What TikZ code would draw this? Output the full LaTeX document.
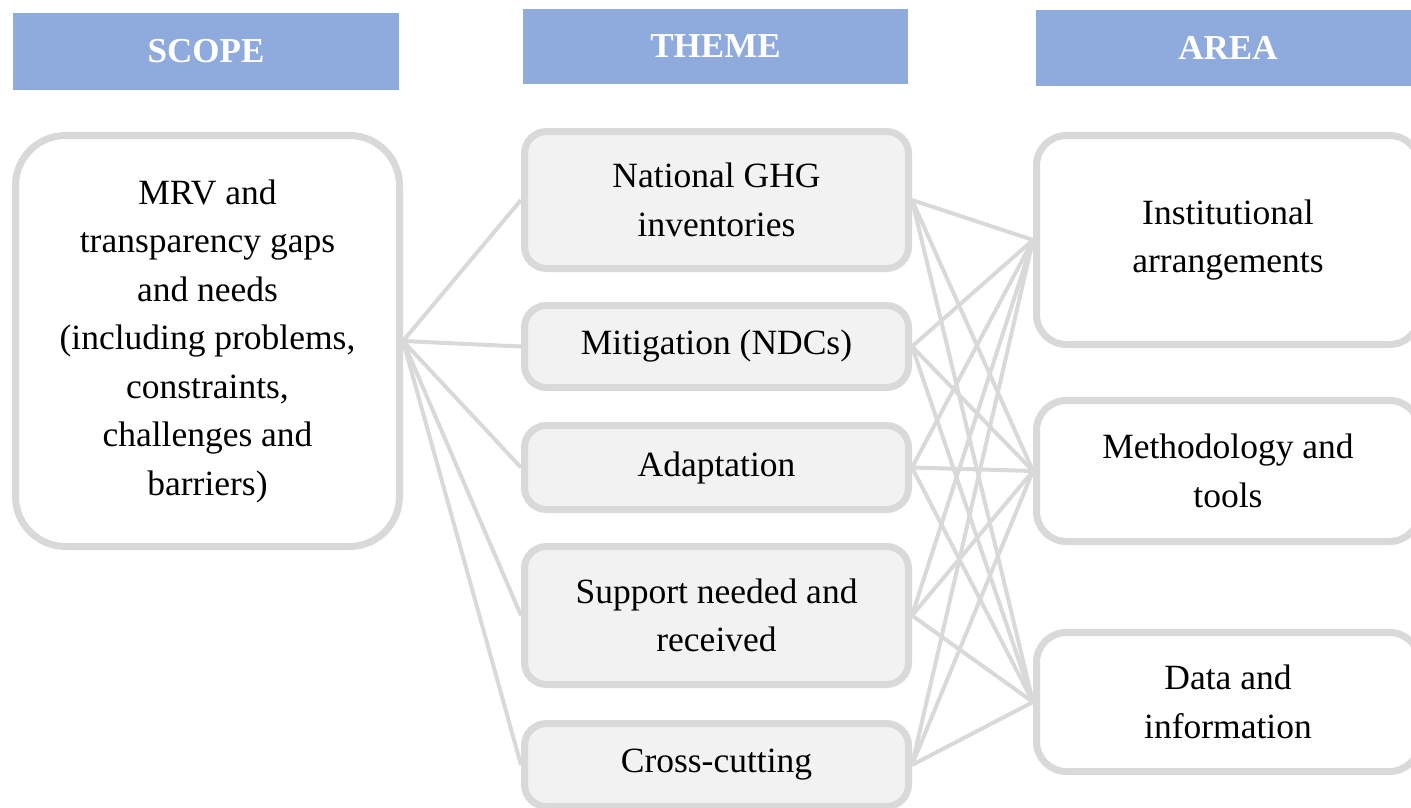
\documentclass[tikz,border=0pt]{standalone}
\usepackage{fontspec}
\setmainfont{Liberation Serif}
\definecolor{hdr}{RGB}{143,170,220}
\definecolor{brd}{RGB}{217,217,217}
\definecolor{tfill}{RGB}{242,242,242}
\pgfdeclarelayer{bg}
\pgfsetlayers{bg,main}
\begin{document}
\begin{tikzpicture}[x=1pt,y=-1pt,
  hdrbox/.style={fill=hdr, text=white, font=\fontsize{35}{42}\selectfont\bfseries, inner sep=0pt, outer sep=0pt},
  txt/.style={font=\fontsize{35.5}{48.5}\selectfont, align=center, text=black, inner sep=0pt},
  scopebox/.style={txt, draw=brd, line width=7pt, fill=white, rounded corners=50pt},
  themebox/.style={txt, draw=brd, line width=7pt, fill=tfill, rounded corners=22pt, minimum width=384pt},
  areabox/.style={txt, draw=brd, line width=7pt, fill=white, rounded corners=30pt, minimum width=383pt},
  link/.style={draw=brd, line width=4pt}]
\useasboundingbox (0,0) rectangle (1411,808);
\clip (0,0) rectangle (1411,808);

% headers
\node[hdrbox, minimum width=386pt, minimum height=77pt] (hs) at (206,51.5) {SCOPE};
\node[hdrbox, minimum width=385pt, minimum height=75pt] (ht) at (715.5,46.5) {THEME};
\node[hdrbox, minimum width=384pt, minimum height=76pt] (ha) at (1228,48) {AREA};

% scope
\node[scopebox, minimum width=384pt, minimum height=411pt] (s) at (207.5,341)
  {MRV and\\transparency gaps\\and needs\\(including problems,\\constraints,\\challenges and\\barriers)};

% themes
\node[themebox, minimum height=137pt] (t1) at (716.5,200) {National GHG\\inventories};
\node[themebox, minimum height=82pt] (t2) at (716.5,346.5) {Mitigation (NDCs)};
\node[themebox, minimum height=84pt] (t3) at (716.5,467.5) {Adaptation};
\node[themebox, minimum height=138pt] (t4) at (716.5,615.5) {Support needed and\\received};
\node[themebox, minimum height=83pt] (t5) at (716.5,765) {Cross-cutting};

% areas
\node[areabox, minimum height=209pt] (a1) at (1228,240) {Institutional\\arrangements};
\node[areabox, minimum height=141pt] (a2) at (1228,471) {Methodology and\\tools};
\node[areabox, minimum height=139pt] (a3) at (1228,702) {Data and\\information};

% connectors
\begin{pgfonlayer}{bg}
  \foreach \t in {t1,t2,t3,t4,t5} {
    \draw[link] (s.east) -- (\t.west);
    \foreach \a in {a1,a2,a3} {
      \draw[link] (\t.east) -- (\a.west);
    }
  }
\end{pgfonlayer}
\end{tikzpicture}
\end{document}
